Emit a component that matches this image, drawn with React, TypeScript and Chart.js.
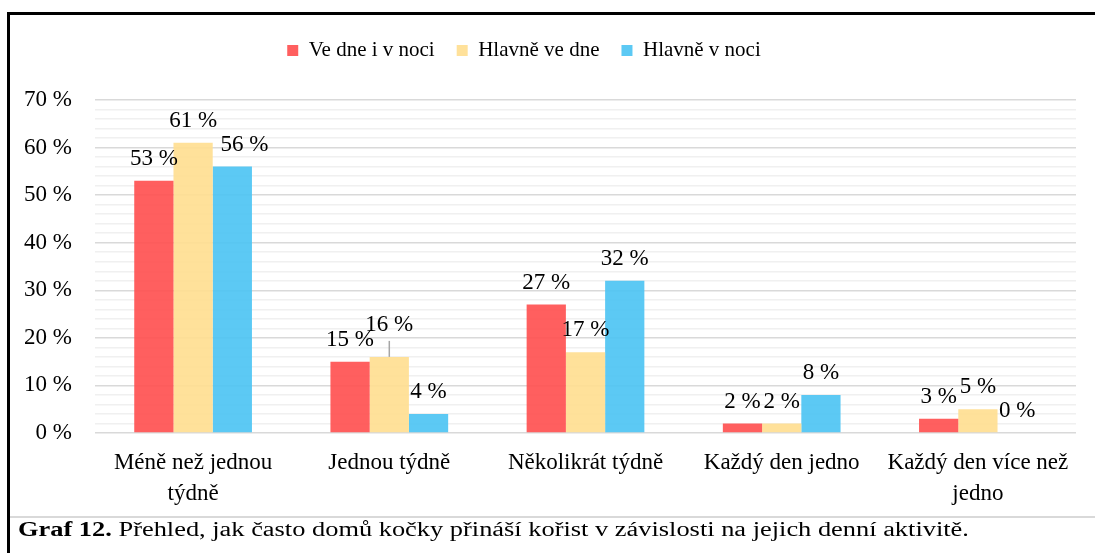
import { useEffect, useRef } from "react";
import { Chart, registerables } from "chart.js";

Chart.register(...registerables);

const categories: string[][] = [
  ["Méně než jednou", "týdně"],
  ["Jednou týdně"],
  ["Několikrát týdně"],
  ["Každý den jedno"],
  ["Každý den více než", "jedno"],
];
const seriesNames = ["Ve dne i v noci", "Hlavně ve dne", "Hlavně v noci"];
const veDneIVNoci = [53, 15, 27, 2, 3];
const hlavneVeDne = [61, 16, 17, 2, 5];
const hlavneVNoci = [56, 4, 32, 8, 0];
const yMax = 70;
const yStep = 2;
const yLabelStep = 10;

const seriesColors = ["rgba(255, 78, 78, 0.9)", "rgba(255, 222, 145, 0.92)", "rgba(78, 196, 243, 0.92)"];
const FONT = '"Liberation Serif", "Times New Roman", serif';

// style-only nudges for data labels (dataset-index)
const labelNudges: Record<string, { dx: number; dy: number; leader?: boolean }> = {
  "2-0": { dx: 12, dy: 0 },
  "1-1": { dx: 0, dy: -10, leader: true },
};

const valueLabels = {
  id: "valueLabels",
  afterDatasetsDraw(chart: any) {
    const ctx = chart.ctx;
    ctx.save();
    ctx.font = `23px ${FONT}`;
    ctx.fillStyle = "#000";
    ctx.textAlign = "center";
    ctx.textBaseline = "middle";
    chart.data.datasets.forEach((ds: any, di: number) => {
      const meta = chart.getDatasetMeta(di);
      meta.data.forEach((bar: any, i: number) => {
        const n = labelNudges[`${di}-${i}`] || { dx: 0, dy: 0 };
        const x = bar.x + n.dx;
        const y = bar.y - 22 + n.dy;
        if (n.leader) {
          ctx.strokeStyle = "#a6a6a6";
          ctx.lineWidth = 1.5;
          ctx.beginPath();
          ctx.moveTo(bar.x, y + 16);
          ctx.lineTo(bar.x, bar.y);
          ctx.stroke();
        }
        ctx.fillText(`${ds.data[i]} %`, x, y);
      });
    });
    ctx.restore();
  },
};

const legendSpacer = {
  id: "legendSpacer",
  beforeLayout(chart: any) {
    const legend = chart.legend;
    if (!legend || legend.__patched) return;
    const orig = legend.fit;
    legend.fit = function (this: any) {
      orig.call(this);
      this.height = 82;
    };
    legend.__patched = true;
  },
  afterLayout(chart: any) {
    const legend = chart.legend;
    if (!legend) return;
    legend.left -= 19;
    legend.right -= 19;
  },
};

export default function App() {
  const ref = useRef<HTMLCanvasElement | null>(null);

  useEffect(() => {
    document.body.style.margin = "0";
    if (!ref.current) return;
    const chart = new Chart(ref.current, {
      type: "bar",
      data: {
        labels: categories,
        datasets: [veDneIVNoci, hlavneVeDne, hlavneVNoci].map((d, i) => ({
          label: seriesNames[i],
          data: d,
          backgroundColor: seriesColors[i],
          borderWidth: 0,
          categoryPercentage: 0.6,
          barPercentage: 1,
        })),
      },
      options: {
        animation: false,
        responsive: true,
        maintainAspectRatio: false,
        layout: { padding: { top: 3, right: 19, bottom: 0, left: 0 } },
        plugins: {
          legend: {
            position: "top",
            labels: {
              boxWidth: 11,
              boxHeight: 11,
              padding: 22,
              color: "#000",
              font: { family: FONT, size: 21 },
            },
          },
          tooltip: { enabled: false },
        },
        scales: {
          x: {
            grid: { display: false, drawTicks: false },
            border: { display: false },
            ticks: {
              color: "#000",
              font: { family: FONT, size: 23, lineHeight: 1.35 },
              padding: 14,
              maxRotation: 0,
              autoSkip: false,
            },
            afterFit: (s: any) => {
              s.height = 84;
            },
          },
          y: {
            min: 0,
            max: yMax,
            grid: {
              drawTicks: false,
              color: (c: any) => (c.tick && c.tick.value % yLabelStep === 0 ? "#d9d9d9" : "#f0f0f0"),
              lineWidth: 1.5,
            },
            border: { display: false },
            ticks: {
              stepSize: yStep,
              autoSkip: false,
              color: "#000",
              font: { family: FONT, size: 23 },
              padding: 23,
              callback: (v: any) => (Number(v) % yLabelStep === 0 ? `${v} %` : ""),
            },
            afterFit: (s: any) => {
              s.width = 85;
            },
          },
        },
      },
      plugins: [legendSpacer, valueLabels],
    });
    return () => chart.destroy();
  }, []);

  return (
    <div style={{ position: "relative", width: 1095, height: 553, overflow: "hidden", background: "#fff" }}>
      <div
        style={{
          position: "absolute",
          left: 7,
          top: 12,
          width: 1200,
          height: 700,
          borderLeft: "3px solid #000",
          borderTop: "3px solid #000",
        }}
      />
      <div style={{ position: "absolute", left: 10, top: 15, width: 1085, height: 502 }}>
        <canvas ref={ref} />
      </div>
      <div style={{ position: "absolute", left: 10, top: 516, width: 1085, height: 2, background: "#d9d9d9" }} />
      <div
        style={{
          position: "absolute",
          left: 18,
          top: 519,
          fontFamily: FONT,
          fontSize: 20,
          color: "#000",
          whiteSpace: "nowrap",
          lineHeight: "20px",
          transformOrigin: "0 0",
          transform: "scaleX(1.32)",
        }}
      >
        <b>Graf 12.</b> Přehled, jak často domů kočky přináší kořist v závislosti na jejich denní aktivitě.
      </div>
    </div>
  );
}
